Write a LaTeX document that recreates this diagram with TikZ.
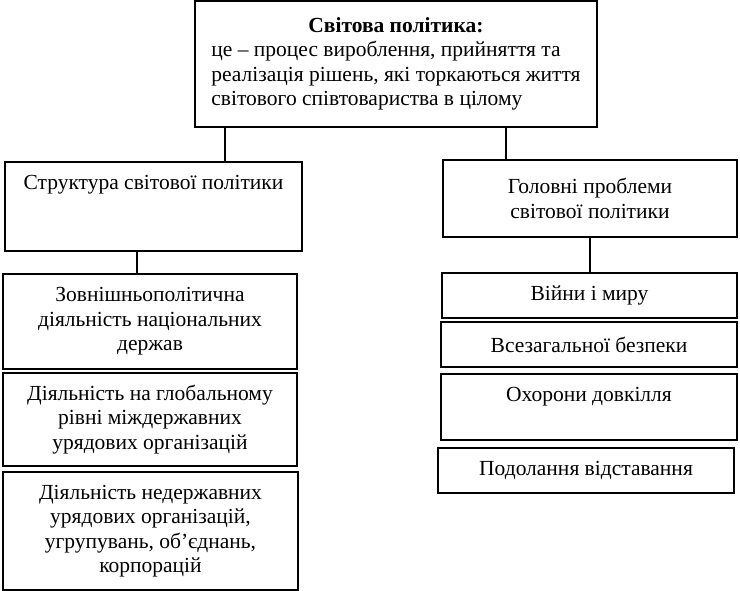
\documentclass[tikz,border=0pt]{standalone}
\usepackage{fontspec}
\setmainfont{Liberation Serif}
\tikzset{
  box/.style={draw, line width=1.6pt, align=center, inner sep=4pt,
    font=\fontsize{21.5}{24.5}\selectfont},
  tallbox/.style={text height=16pt, text depth=#1},
  link/.style={line width=1.6pt}
}
\begin{document}
\begin{tikzpicture}[x=1pt, y=-1pt]
        \useasboundingbox (0, 0) rectangle (740, 591);
        \node[box, minimum width=402, minimum height=126] (top) at (396, 64)
          {\begin{tabular}{@{}l@{}}
             \multicolumn{1}{c}{\textbf{Світова політика:}}\\
             це – процес вироблення, прийняття та\\
             реалізація рішень, які торкаються життя\\
             світового співтовариства в цілому
           \end{tabular}};
        \node[box, minimum width=297, minimum height=89, anchor=north, tallbox=49pt, inner ysep=12pt] (struct) at (153.5, 161)
          {Структура світової політики};
        \node[box, minimum width=294, minimum height=77] (probl) at (590, 198.5)
          {Головні проблеми\\ світової політики};
        \node[box, minimum width=294, minimum height=95] (act1) at (150, 321.5)
          {Зовнішньополітична\\ діяльність національних\\ держав};
        \node[box, minimum width=294, minimum height=93] (act2) at (150, 419.5)
          {Діяльність на глобальному\\ рівні міждержавних\\ урядових організацій};
        \node[box, minimum width=295, minimum height=118] (act3) at (150.5, 531)
          {Діяльність недержавних\\ урядових організацій,\\ угрупувань, об’єднань,\\ корпорацій};
        \node[box, minimum width=295, minimum height=45] (war) at (589.5, 295.5) {Війни і миру};
        \node[box, minimum width=296, minimum height=45] (secur) at (589, 344.5) {Всезагальної безпеки};
        \node[box, minimum width=296, minimum height=66, anchor=north, tallbox=26pt, inner ysep=12pt] (envir) at (589, 373)
          {Охорони довкілля};
        \node[box, minimum width=296, minimum height=45] (lag) at (586, 470.5) {Подолання відставання};
        \draw[link] ([xshift=31pt]top.south west) -- ([xshift=31pt]top.south west |- struct.north);
        \draw[link] ([xshift=-92pt]top.south east) -- ([xshift=-92pt]top.south east |- probl.north);
        \draw[link] ([xshift=133pt]struct.south west) -- ([xshift=133pt]struct.south west |- act1.north);
        \draw[link] (probl.south) -- (probl.south |- war.north);
    \end{tikzpicture}
\end{document}
